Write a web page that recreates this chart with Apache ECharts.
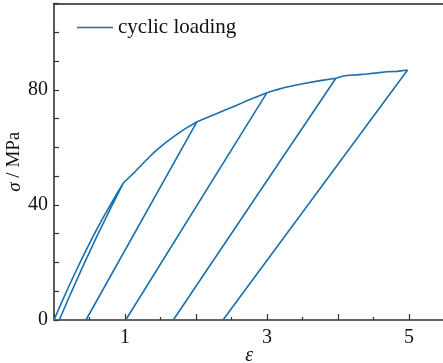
<!DOCTYPE html>
<html>
<head>
<meta charset="utf-8">
<script src="https://cdn.jsdelivr.net/npm/echarts@6/dist/echarts.min.js"></script>
<style>html,body{margin:0;padding:0;background:#fff}#c{width:443px;height:363px}</style>
</head>
<body>
<div id="c"></div>
<script>
// strain (ε) along the loading path, in drawing order
const strain = [
  0, 0.1, 0.2, 0.3, 0.4, 0.5, 0.6, 0.7, 0.8, 0.9, 0.98,
  0.8, 0.6, 0.4, 0.2, 0.075,
  0.2, 0.4, 0.6, 0.8, 0.98,
  1.14, 1.28, 1.42, 1.56, 1.7, 1.85, 2.01,
  0.45, 2.01,
  2.14, 2.27, 2.41, 2.55, 2.69, 2.83, 3.0,
  1.01, 3.0,
  3.12, 3.25, 3.4, 3.54, 3.75, 3.97,
  1.68, 3.97,
  4.05, 4.12, 4.26, 4.40, 4.55, 4.69, 4.83, 4.98,
  2.38
];
// stress (σ, MPa)
const stress = [
  0, 5.7, 11.2, 16.5, 21.7, 26.6, 31.4, 35.9, 40.3, 44.5, 47.7,
  39.0, 28.9, 18.3, 7.2, 0,
  7.2, 18.3, 28.9, 39.0, 47.7,
  51.5, 55.1, 58.5, 61.4, 64.0, 66.5, 68.8,
  0, 68.8,
  70.2, 71.5, 73.0, 74.4, 75.9, 77.3, 79.0,
  0, 79.0,
  79.9, 80.8, 81.6, 82.3, 83.2, 84.0,
  0, 84.0,
  84.6, 85.0, 85.2, 85.5, 85.9, 86.3, 86.4, 86.9,
  0
];
const xLabels = [1, 3, 5];
const yLabels = [0, 40, 80];
const seriesName = 'cyclic loading';

const data = strain.map((x, i) => [x, stress[i]]);
const FONT = 'Liberation Serif';
const AX = '#333';
const chart = echarts.init(document.getElementById('c'), null, {renderer: 'canvas'});
chart.setOption({
  animation: false,
  backgroundColor: '#fff',
  grid: {left: 54, right: -1.5, top: 3.5, bottom: 43, containLabel: false, outerBoundsMode: 'none'},
  legend: {
    show: true, left: 77, top: 17, padding: 0,
    icon: 'rect', itemWidth: 36, itemHeight: 1.6,
    data: [{name: seriesName, itemStyle: {color: '#1a6faf'}}],
    textStyle: {fontFamily: FONT, fontSize: 21, color: '#111'}
  },
  xAxis: [{
    type: 'value', min: 0, max: 5.5, interval: 1,
    axisLine: {show: true, onZero: false, lineStyle: {color: AX, width: 1.6}},
    axisTick: {show: true, inside: true, length: 6, lineStyle: {color: AX, width: 1.2}},
    minorTick: {show: true, splitNumber: 2, length: 3, lineStyle: {color: AX, width: 1.2}},
    splitLine: {show: false},
    axisLabel: {
      margin: 8, fontFamily: FONT, fontSize: 20, color: '#111',
      formatter: v => xLabels.indexOf(v) >= 0 ? String(v) : ''
    },
    name: 'ε', nameLocation: 'middle', nameGap: 26, nameMoveOverlap: false,
    nameTextStyle: {fontFamily: FONT, fontSize: 20, fontStyle: 'italic', color: '#111'}
  }, {
    type: 'value', min: 0, max: 5.5, position: 'top',
    axisLine: {show: true, onZero: false, lineStyle: {color: '#222', width: 1.6}},
    axisTick: {show: false}, axisLabel: {show: false}, splitLine: {show: false}
  }],
  yAxis: {
    type: 'value', min: 0, max: 110, interval: 10,
    axisLine: {show: true, onZero: false, lineStyle: {color: AX, width: 1.6}},
    axisTick: {show: true, inside: true, length: 5, lineStyle: {color: AX, width: 1.2}},
    splitLine: {show: false},
    axisLabel: {
      margin: 6, fontFamily: FONT, fontSize: 20, color: '#111',
      formatter: v => yLabels.indexOf(v) >= 0 ? String(v) : ''
    },
    name: '{i|σ} / MPa', nameLocation: 'middle', nameGap: 30, nameMoveOverlap: false,
    nameTextStyle: {
      fontFamily: FONT, fontSize: 19, color: '#111',
      rich: {i: {fontFamily: FONT, fontSize: 19, fontStyle: 'italic', color: '#111'}}
    }
  },
  series: [{
    name: seriesName, type: 'line', data: data,
    showSymbol: false, symbol: 'none', smooth: false,
    lineStyle: {color: '#1a6faf', width: 1.6},
    itemStyle: {color: '#1a6faf'}
  }]
});
</script>
</body>
</html>
